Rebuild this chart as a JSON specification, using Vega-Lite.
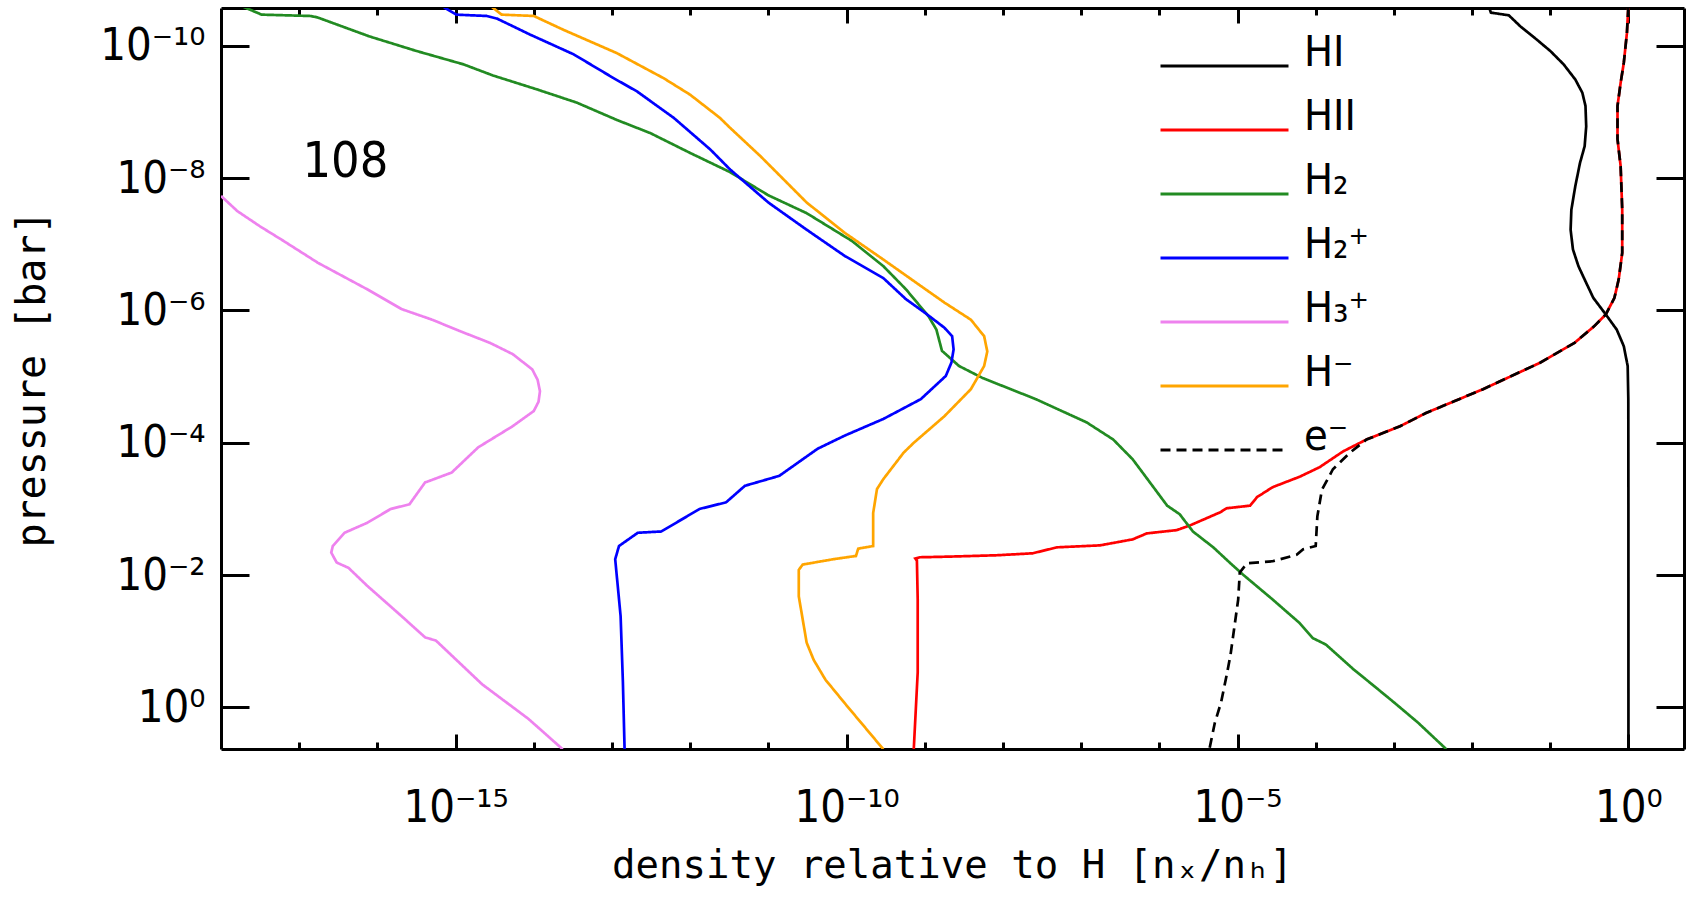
{
  "$schema": "https://vega.github.io/schema/vega-lite/v6.json",
  "width": 1463,
  "height": 741,
  "autosize": {"type": "none"},
  "padding": {"left": 221, "top": 8, "right": 16, "bottom": 151},
  "background": "white",
  "config": {
    "view": {"stroke": null},
    "axis": {
      "grid": false,
      "domainColor": "black",
      "domainWidth": 3,
      "tickColor": "black",
      "tickWidth": 3,
      "labelColor": "black",
      "titleColor": "black",
      "labelFont": "DejaVu Sans Condensed, DejaVu Sans",
      "titleFont": "DejaVu Sans Mono",
      "titleFontWeight": "normal",
      "labelFontSize": 45,
      "titleFontSize": 39,
      "labelOverlap": false,
      "labelFlush": false
    }
  },
  "layer": [
    {
      "data": {
        "values": [
          {"s": "HI", "x": 0.0166, "p": 2.69e-11},
          {"s": "HI", "x": 0.0174, "p": 3.16e-11},
          {"s": "HI", "x": 0.0295, "p": 3.47e-11},
          {"s": "HI", "x": 0.0417, "p": 5.13e-11},
          {"s": "HI", "x": 0.0676, "p": 8.13e-11},
          {"s": "HI", "x": 0.1, "p": 1.2e-10},
          {"s": "HI", "x": 0.148, "p": 1.91e-10},
          {"s": "HI", "x": 0.209, "p": 3.24e-10},
          {"s": "HI", "x": 0.257, "p": 5.13e-10},
          {"s": "HI", "x": 0.282, "p": 8.13e-10},
          {"s": "HI", "x": 0.288, "p": 1.66e-9},
          {"s": "HI", "x": 0.275, "p": 3.31e-9},
          {"s": "HI", "x": 0.24, "p": 5.89e-9},
          {"s": "HI", "x": 0.209, "p": 1.32e-8},
          {"s": "HI", "x": 0.186, "p": 3.02e-8},
          {"s": "HI", "x": 0.182, "p": 6.03e-8},
          {"s": "HI", "x": 0.195, "p": 1.2e-7},
          {"s": "HI", "x": 0.229, "p": 2.14e-7},
          {"s": "HI", "x": 0.282, "p": 3.63e-7},
          {"s": "HI", "x": 0.355, "p": 6.46e-7},
          {"s": "HI", "x": 0.513, "p": 1.15e-6},
          {"s": "HI", "x": 0.708, "p": 1.95e-6},
          {"s": "HI", "x": 0.871, "p": 3.47e-6},
          {"s": "HI", "x": 0.977, "p": 6.92e-6},
          {"s": "HI", "x": 0.995, "p": 2.19e-5},
          {"s": "HI", "x": 0.998, "p": 1e-3},
          {"s": "HI", "x": 0.999, "p": 4.27},

          {"s": "HII", "x": 0.995, "p": 2.6e-11},
          {"s": "HII", "x": 0.955, "p": 6.46e-11},
          {"s": "HII", "x": 0.871, "p": 1.82e-10},
          {"s": "HII", "x": 0.794, "p": 3.63e-10},
          {"s": "HII", "x": 0.724, "p": 8.13e-10},
          {"s": "HII", "x": 0.724, "p": 2.57e-9},
          {"s": "HII", "x": 0.794, "p": 6.61e-9},
          {"s": "HII", "x": 0.832, "p": 3.02e-8},
          {"s": "HII", "x": 0.832, "p": 1.35e-7},
          {"s": "HII", "x": 0.75, "p": 3.39e-7},
          {"s": "HII", "x": 0.661, "p": 6.46e-7},
          {"s": "HII", "x": 0.513, "p": 1.15e-6},
          {"s": "HII", "x": 0.363, "p": 1.74e-6},
          {"s": "HII", "x": 0.204, "p": 3.09e-6},
          {"s": "HII", "x": 0.0741, "p": 6.17e-6},
          {"s": "HII", "x": 0.0138, "p": 1.55e-5},
          {"s": "HII", "x": 2.57e-3, "p": 3.55e-5},
          {"s": "HII", "x": 1.2e-3, "p": 5.62e-5},
          {"s": "HII", "x": 4.47e-4, "p": 8.91e-5},
          {"s": "HII", "x": 2.24e-4, "p": 1.35e-4},
          {"s": "HII", "x": 1.12e-4, "p": 2.34e-4},
          {"s": "HII", "x": 6.31e-5, "p": 3.24e-4},
          {"s": "HII", "x": 2.82e-5, "p": 4.68e-4},
          {"s": "HII", "x": 1.78e-5, "p": 6.61e-4},
          {"s": "HII", "x": 1.45e-5, "p": 8.91e-4},
          {"s": "HII", "x": 7.24e-6, "p": 9.77e-4},
          {"s": "HII", "x": 6.03e-6, "p": 1.12e-3},
          {"s": "HII", "x": 2.45e-6, "p": 1.78e-3},
          {"s": "HII", "x": 1.66e-6, "p": 2.09e-3},
          {"s": "HII", "x": 6.92e-7, "p": 2.34e-3},
          {"s": "HII", "x": 4.57e-7, "p": 2.88e-3},
          {"s": "HII", "x": 1.74e-7, "p": 3.55e-3},
          {"s": "HII", "x": 4.9e-8, "p": 3.8e-3},
          {"s": "HII", "x": 2.4e-8, "p": 4.68e-3},
          {"s": "HII", "x": 8.32e-9, "p": 5.01e-3},
          {"s": "HII", "x": 2.09e-9, "p": 5.25e-3},
          {"s": "HII", "x": 8.71e-10, "p": 5.37e-3},
          {"s": "HII", "x": 7.59e-10, "p": 5.62e-3},
          {"s": "HII", "x": 7.94e-10, "p": 6.03e-3},
          {"s": "HII", "x": 8.13e-10, "p": 2.34e-2},
          {"s": "HII", "x": 8.13e-10, "p": 0.295},
          {"s": "HII", "x": 7.24e-10, "p": 4.27},

          {"s": "H₂", "x": 1.91e-18, "p": 2.57e-11},
          {"s": "H₂", "x": 3.31e-18, "p": 3.39e-11},
          {"s": "H₂", "x": 1.38e-17, "p": 3.55e-11},
          {"s": "H₂", "x": 1.7e-17, "p": 3.72e-11},
          {"s": "H₂", "x": 7.94e-17, "p": 7.24e-11},
          {"s": "H₂", "x": 3.16e-16, "p": 1.2e-10},
          {"s": "H₂", "x": 1.26e-15, "p": 1.91e-10},
          {"s": "H₂", "x": 3.02e-15, "p": 2.82e-10},
          {"s": "H₂", "x": 1.1e-14, "p": 4.57e-10},
          {"s": "H₂", "x": 3.55e-14, "p": 7.24e-10},
          {"s": "H₂", "x": 1.15e-13, "p": 1.32e-9},
          {"s": "H₂", "x": 3.09e-13, "p": 2.09e-9},
          {"s": "H₂", "x": 1e-12, "p": 4.17e-9},
          {"s": "H₂", "x": 3.24e-12, "p": 8.13e-9},
          {"s": "H₂", "x": 1e-11, "p": 1.82e-8},
          {"s": "H₂", "x": 3.09e-11, "p": 3.39e-8},
          {"s": "H₂", "x": 1.17e-10, "p": 8.91e-8},
          {"s": "H₂", "x": 2.95e-10, "p": 2.14e-7},
          {"s": "H₂", "x": 5.75e-10, "p": 4.79e-7},
          {"s": "H₂", "x": 1.12e-9, "p": 1.23e-6},
          {"s": "H₂", "x": 1.41e-9, "p": 1.95e-6},
          {"s": "H₂", "x": 1.66e-9, "p": 4.07e-6},
          {"s": "H₂", "x": 2.75e-9, "p": 6.92e-6},
          {"s": "H₂", "x": 5.5e-9, "p": 1.05e-5},
          {"s": "H₂", "x": 2.63e-8, "p": 2.19e-5},
          {"s": "H₂", "x": 1.17e-7, "p": 4.9e-5},
          {"s": "H₂", "x": 2.57e-7, "p": 8.91e-5},
          {"s": "H₂", "x": 4.57e-7, "p": 1.78e-4},
          {"s": "H₂", "x": 7.59e-7, "p": 3.98e-4},
          {"s": "H₂", "x": 1.26e-6, "p": 8.91e-4},
          {"s": "H₂", "x": 1.82e-6, "p": 1.2e-3},
          {"s": "H₂", "x": 2.69e-6, "p": 2.19e-3},
          {"s": "H₂", "x": 4.9e-6, "p": 3.8e-3},
          {"s": "H₂", "x": 7.94e-6, "p": 6.46e-3},
          {"s": "H₂", "x": 1.17e-5, "p": 9.77e-3},
          {"s": "H₂", "x": 2.82e-5, "p": 2.34e-2},
          {"s": "H₂", "x": 6.17e-5, "p": 5.25e-2},
          {"s": "H₂", "x": 9.12e-5, "p": 8.91e-2},
          {"s": "H₂", "x": 1.35e-4, "p": 0.112},
          {"s": "H₂", "x": 3.02e-4, "p": 0.263},
          {"s": "H₂", "x": 5.25e-4, "p": 0.447},
          {"s": "H₂", "x": 1.02e-3, "p": 0.851},
          {"s": "H₂", "x": 2.04e-3, "p": 1.7},
          {"s": "H₂", "x": 4.68e-3, "p": 4.27},

          {"s": "H₂⁺", "x": 6.92e-16, "p": 2.57e-11},
          {"s": "H₂⁺", "x": 1.02e-15, "p": 3.39e-11},
          {"s": "H₂⁺", "x": 2.51e-15, "p": 3.55e-11},
          {"s": "H₂⁺", "x": 3.39e-15, "p": 3.89e-11},
          {"s": "H₂⁺", "x": 8.91e-15, "p": 6.76e-11},
          {"s": "H₂⁺", "x": 3.24e-14, "p": 1.35e-10},
          {"s": "H₂⁺", "x": 1.05e-13, "p": 3.09e-10},
          {"s": "H₂⁺", "x": 2.09e-13, "p": 4.9e-10},
          {"s": "H₂⁺", "x": 6.17e-13, "p": 1.23e-9},
          {"s": "H₂⁺", "x": 1.82e-12, "p": 3.72e-9},
          {"s": "H₂⁺", "x": 3.24e-12, "p": 7.41e-9},
          {"s": "H₂⁺", "x": 1e-11, "p": 2.34e-8},
          {"s": "H₂⁺", "x": 3.09e-11, "p": 6.03e-8},
          {"s": "H₂⁺", "x": 9.55e-11, "p": 1.51e-7},
          {"s": "H₂⁺", "x": 2.95e-10, "p": 3.24e-7},
          {"s": "H₂⁺", "x": 5.75e-10, "p": 6.76e-7},
          {"s": "H₂⁺", "x": 1.02e-9, "p": 1.1e-6},
          {"s": "H₂⁺", "x": 1.78e-9, "p": 1.82e-6},
          {"s": "H₂⁺", "x": 2.24e-9, "p": 2.45e-6},
          {"s": "H₂⁺", "x": 2.34e-9, "p": 3.89e-6},
          {"s": "H₂⁺", "x": 2.19e-9, "p": 6.17e-6},
          {"s": "H₂⁺", "x": 1.86e-9, "p": 9.77e-6},
          {"s": "H₂⁺", "x": 8.91e-10, "p": 2.19e-5},
          {"s": "H₂⁺", "x": 2.95e-10, "p": 4.37e-5},
          {"s": "H₂⁺", "x": 9.55e-11, "p": 7.76e-5},
          {"s": "H₂⁺", "x": 4.27e-11, "p": 1.23e-4},
          {"s": "H₂⁺", "x": 1.38e-11, "p": 3.16e-4},
          {"s": "H₂⁺", "x": 5.01e-12, "p": 4.47e-4},
          {"s": "H₂⁺", "x": 2.88e-12, "p": 7.94e-4},
          {"s": "H₂⁺", "x": 1.32e-12, "p": 1e-3},
          {"s": "H₂⁺", "x": 4.27e-13, "p": 2.19e-3},
          {"s": "H₂⁺", "x": 2.14e-13, "p": 2.29e-3},
          {"s": "H₂⁺", "x": 1.23e-13, "p": 3.63e-3},
          {"s": "H₂⁺", "x": 1.1e-13, "p": 5.75e-3},
          {"s": "H₂⁺", "x": 1.29e-13, "p": 4.17e-2},
          {"s": "H₂⁺", "x": 1.38e-13, "p": 0.417},
          {"s": "H₂⁺", "x": 1.45e-13, "p": 4.27},

          {"s": "H₃⁺", "x": 1e-18, "p": 1.86e-8},
          {"s": "H₃⁺", "x": 1.62e-18, "p": 3.16e-8},
          {"s": "H₃⁺", "x": 3.16e-18, "p": 5.37e-8},
          {"s": "H₃⁺", "x": 6.31e-18, "p": 8.91e-8},
          {"s": "H₃⁺", "x": 1.74e-17, "p": 1.91e-7},
          {"s": "H₃⁺", "x": 7.41e-17, "p": 4.79e-7},
          {"s": "H₃⁺", "x": 2.04e-16, "p": 9.55e-7},
          {"s": "H₃⁺", "x": 5.01e-16, "p": 1.38e-6},
          {"s": "H₃⁺", "x": 1.12e-15, "p": 2.04e-6},
          {"s": "H₃⁺", "x": 2.75e-15, "p": 3.09e-6},
          {"s": "H₃⁺", "x": 5.37e-15, "p": 4.57e-6},
          {"s": "H₃⁺", "x": 9.55e-15, "p": 7.76e-6},
          {"s": "H₃⁺", "x": 1.12e-14, "p": 1.12e-5},
          {"s": "H₃⁺", "x": 1.2e-14, "p": 1.66e-5},
          {"s": "H₃⁺", "x": 1.15e-14, "p": 2.4e-5},
          {"s": "H₃⁺", "x": 1e-14, "p": 3.31e-5},
          {"s": "H₃⁺", "x": 5.37e-15, "p": 5.62e-5},
          {"s": "H₃⁺", "x": 1.95e-15, "p": 1.17e-4},
          {"s": "H₃⁺", "x": 8.91e-16, "p": 2.82e-4},
          {"s": "H₃⁺", "x": 4.07e-16, "p": 3.98e-4},
          {"s": "H₃⁺", "x": 2.57e-16, "p": 8.51e-4},
          {"s": "H₃⁺", "x": 1.48e-16, "p": 1e-3},
          {"s": "H₃⁺", "x": 7.41e-17, "p": 1.62e-3},
          {"s": "H₃⁺", "x": 3.8e-17, "p": 2.29e-3},
          {"s": "H₃⁺", "x": 2.69e-17, "p": 3.63e-3},
          {"s": "H₃⁺", "x": 2.57e-17, "p": 4.57e-3},
          {"s": "H₃⁺", "x": 3.02e-17, "p": 6.46e-3},
          {"s": "H₃⁺", "x": 4.27e-17, "p": 7.76e-3},
          {"s": "H₃⁺", "x": 7.41e-17, "p": 1.45e-2},
          {"s": "H₃⁺", "x": 2.04e-16, "p": 4.17e-2},
          {"s": "H₃⁺", "x": 4.07e-16, "p": 8.71e-2},
          {"s": "H₃⁺", "x": 5.62e-16, "p": 9.77e-2},
          {"s": "H₃⁺", "x": 1e-15, "p": 0.186},
          {"s": "H₃⁺", "x": 2.19e-15, "p": 0.447},
          {"s": "H₃⁺", "x": 8.51e-15, "p": 1.48},
          {"s": "H₃⁺", "x": 2.34e-14, "p": 4.27},

          {"s": "H⁻", "x": 2.88e-15, "p": 2.57e-11},
          {"s": "H⁻", "x": 3.89e-15, "p": 3.39e-11},
          {"s": "H⁻", "x": 1e-14, "p": 3.55e-11},
          {"s": "H⁻", "x": 2.4e-14, "p": 5.75e-11},
          {"s": "H⁻", "x": 1.15e-13, "p": 1.29e-10},
          {"s": "H⁻", "x": 4.57e-13, "p": 3.09e-10},
          {"s": "H⁻", "x": 1e-12, "p": 5.5e-10},
          {"s": "H⁻", "x": 2.4e-12, "p": 1.23e-9},
          {"s": "H⁻", "x": 3.24e-12, "p": 1.74e-9},
          {"s": "H⁻", "x": 7.94e-12, "p": 4.68e-9},
          {"s": "H⁻", "x": 3.09e-11, "p": 2.34e-8},
          {"s": "H⁻", "x": 9.55e-11, "p": 6.76e-8},
          {"s": "H⁻", "x": 2.95e-10, "p": 1.7e-7},
          {"s": "H⁻", "x": 8.91e-10, "p": 4.27e-7},
          {"s": "H⁻", "x": 1.78e-9, "p": 7.59e-7},
          {"s": "H⁻", "x": 3.89e-9, "p": 1.38e-6},
          {"s": "H⁻", "x": 5.75e-9, "p": 2.45e-6},
          {"s": "H⁻", "x": 6.31e-9, "p": 4.17e-6},
          {"s": "H⁻", "x": 5.75e-9, "p": 6.92e-6},
          {"s": "H⁻", "x": 3.89e-9, "p": 1.55e-5},
          {"s": "H⁻", "x": 1.78e-9, "p": 3.98e-5},
          {"s": "H⁻", "x": 7.24e-10, "p": 1e-4},
          {"s": "H⁻", "x": 5.37e-10, "p": 1.41e-4},
          {"s": "H⁻", "x": 2.95e-10, "p": 3.55e-4},
          {"s": "H⁻", "x": 2.45e-10, "p": 5.01e-4},
          {"s": "H⁻", "x": 2.19e-10, "p": 1.15e-3},
          {"s": "H⁻", "x": 2.19e-10, "p": 3.63e-3},
          {"s": "H⁻", "x": 1.41e-10, "p": 3.98e-3},
          {"s": "H⁻", "x": 1.32e-10, "p": 5.13e-3},
          {"s": "H⁻", "x": 6.76e-11, "p": 5.75e-3},
          {"s": "H⁻", "x": 2.75e-11, "p": 6.92e-3},
          {"s": "H⁻", "x": 2.45e-11, "p": 8.32e-3},
          {"s": "H⁻", "x": 2.45e-11, "p": 2.09e-2},
          {"s": "H⁻", "x": 3.09e-11, "p": 0.105},
          {"s": "H⁻", "x": 3.8e-11, "p": 0.191},
          {"s": "H⁻", "x": 5.37e-11, "p": 0.38},
          {"s": "H⁻", "x": 9.55e-11, "p": 0.871},
          {"s": "H⁻", "x": 2.95e-10, "p": 4.27},

          {"s": "e⁻", "x": 0.995, "p": 2.6e-11},
          {"s": "e⁻", "x": 0.955, "p": 6.46e-11},
          {"s": "e⁻", "x": 0.871, "p": 1.82e-10},
          {"s": "e⁻", "x": 0.794, "p": 3.63e-10},
          {"s": "e⁻", "x": 0.724, "p": 8.13e-10},
          {"s": "e⁻", "x": 0.724, "p": 2.57e-9},
          {"s": "e⁻", "x": 0.794, "p": 6.61e-9},
          {"s": "e⁻", "x": 0.832, "p": 3.02e-8},
          {"s": "e⁻", "x": 0.832, "p": 1.35e-7},
          {"s": "e⁻", "x": 0.75, "p": 3.39e-7},
          {"s": "e⁻", "x": 0.661, "p": 6.46e-7},
          {"s": "e⁻", "x": 0.513, "p": 1.15e-6},
          {"s": "e⁻", "x": 0.363, "p": 1.74e-6},
          {"s": "e⁻", "x": 0.204, "p": 3.09e-6},
          {"s": "e⁻", "x": 0.0741, "p": 6.17e-6},
          {"s": "e⁻", "x": 0.0138, "p": 1.55e-5},
          {"s": "e⁻", "x": 2.57e-3, "p": 3.55e-5},
          {"s": "e⁻", "x": 1.2e-3, "p": 5.62e-5},
          {"s": "e⁻", "x": 4.47e-4, "p": 8.91e-5},
          {"s": "e⁻", "x": 2.75e-4, "p": 1.41e-4},
          {"s": "e⁻", "x": 1.66e-4, "p": 2.51e-4},
          {"s": "e⁻", "x": 1.35e-4, "p": 3.98e-4},
          {"s": "e⁻", "x": 1.2e-4, "p": 5.13e-4},
          {"s": "e⁻", "x": 1.05e-4, "p": 1.29e-3},
          {"s": "e⁻", "x": 1e-4, "p": 3.63e-3},
          {"s": "e⁻", "x": 6.92e-5, "p": 4.07e-3},
          {"s": "e⁻", "x": 5.75e-5, "p": 4.9e-3},
          {"s": "e⁻", "x": 2.82e-5, "p": 6.17e-3},
          {"s": "e⁻", "x": 1.32e-5, "p": 6.61e-3},
          {"s": "e⁻", "x": 1.07e-5, "p": 9.12e-3},
          {"s": "e⁻", "x": 1.02e-5, "p": 2.34e-2},
          {"s": "e⁻", "x": 8.13e-6, "p": 0.162},
          {"s": "e⁻", "x": 7.24e-6, "p": 0.331},
          {"s": "e⁻", "x": 6.17e-6, "p": 0.832},
          {"s": "e⁻", "x": 5.13e-6, "p": 1.7},
          {"s": "e⁻", "x": 4.37e-6, "p": 4.27}
        ]
      },
      "mark": {"type": "line", "strokeWidth": 2.7, "clip": true},
      "encoding": {
        "x": {
          "field": "x",
          "type": "quantitative",
          "scale": {"type": "log", "domain": [1e-18, 5.13], "nice": false},
          "axis": {
            "orient": "bottom",
            "values": [1e-17, 1e-16, 1e-15, 1e-14, 1e-13, 1e-12, 1e-11, 1e-10, 1e-9, 1e-8, 1e-7, 1e-6, 1e-5, 1e-4, 1e-3, 1e-2, 1e-1, 1],
            "labelExpr": "datum.value > 0.5 ? '10⁰' : abs(datum.value / 1e-5 - 1) < 0.01 ? '10⁻⁵' : abs(datum.value / 1e-10 - 1) < 0.01 ? '10⁻¹⁰' : abs(datum.value / 1e-15 - 1) < 0.01 ? '10⁻¹⁵' : ''",
            "tickSize": {"condition": {"test": "round(log(datum.value) / LN10) % 5 == 0", "value": -15}, "value": -7},
            "labelPadding": 87,
            "labelBaseline": "alphabetic",
            "labelAlign": "center",
            "title": "density relative to H [nₓ/nₕ]",
            "titleX": 731,
            "titleY": 128,
            "titleAlign": "center",
            "titleBaseline": "alphabetic"
          }
        },
        "y": {
          "field": "p",
          "type": "quantitative",
          "scale": {"type": "log", "domain": [2.69e-11, 4.24], "reverse": true, "nice": false},
          "axis": {
            "orient": "left",
            "values": [1e-10, 1e-8, 1e-6, 1e-4, 1e-2, 1],
            "labelExpr": "datum.value < 1e-9 ? '10⁻¹⁰' : datum.value < 1e-7 ? '10⁻⁸' : datum.value < 1e-5 ? '10⁻⁶' : datum.value < 1e-3 ? '10⁻⁴' : datum.value < 0.1 ? '10⁻²' : '10⁰'",
            "tickSize": -28,
            "labelPadding": 44,
            "labelAlign": "right",
            "labelBaseline": "middle",
            "title": "pressure [bar]",
            "titleFontSize": 40,
            "titleX": -189,
            "titleY": 370.5,
            "titleAngle": -90,
            "titleAlign": "center",
            "titleBaseline": "middle"
          }
        },
        "order": {"field": "p", "type": "quantitative"},
        "color": {
          "field": "s",
          "type": "nominal",
          "scale": {
            "domain": ["HI", "HII", "H₂", "H₂⁺", "H₃⁺", "H⁻", "e⁻"],
            "range": ["#000000", "#ff0000", "#228b22", "#0000ff", "#ee82ee", "#ffa500", "#000000"]
          },
          "legend": {
            "orient": "none",
            "legendX": 938,
            "legendY": 28,
            "title": null,
            "padding": 0,
            "symbolType": "stroke",
            "symbolSize": 16384,
            "symbolStrokeWidth": 3,
            "clipHeight": 60,
            "rowPadding": 0,
            "labelFont": "DejaVu Sans Condensed, DejaVu Sans",
            "labelFontSize": 43,
            "labelColor": "black",
            "labelBaseline": "alphabetic",
            "labelOffset": 14,
            "labelLimit": 300
          }
        },
        "strokeDash": {
          "field": "s",
          "type": "nominal",
          "scale": {
            "domain": ["HI", "HII", "H₂", "H₂⁺", "H₃⁺", "H⁻", "e⁻"],
            "range": [[1, 0], [1, 0], [1, 0], [1, 0], [1, 0], [1, 0], [10, 6]]
          },
          "legend": {
            "orient": "none",
            "legendX": 938,
            "legendY": 28,
            "title": null,
            "padding": 0,
            "symbolType": "stroke",
            "symbolSize": 16384,
            "symbolStrokeWidth": 3,
            "clipHeight": 60,
            "rowPadding": 0,
            "labelFont": "DejaVu Sans Condensed, DejaVu Sans",
            "labelFontSize": 43,
            "labelColor": "black",
            "labelBaseline": "alphabetic",
            "labelOffset": 14,
            "labelLimit": 300
          }
        }
      }
    },
    {
      "data": {"values": [{"x": 3.89e-17, "p": 5.75e-9, "t": "108"}]},
      "mark": {"type": "text", "font": "DejaVu Sans Condensed, DejaVu Sans", "fontSize": 50, "align": "center", "baseline": "middle", "color": "black"},
      "encoding": {
        "x": {
          "field": "x",
          "type": "quantitative",
          "scale": {"type": "log", "domain": [1e-18, 5.13], "nice": false},
          "axis": {
            "orient": "top",
            "values": [1e-17, 1e-16, 1e-15, 1e-14, 1e-13, 1e-12, 1e-11, 1e-10, 1e-9, 1e-8, 1e-7, 1e-6, 1e-5, 1e-4, 1e-3, 1e-2, 1e-1, 1],
            "labels": false,
            "tickSize": {"condition": {"test": "round(log(datum.value) / LN10) % 5 == 0", "value": -15}, "value": -7},
            "title": null
          }
        },
        "y": {
          "field": "p",
          "type": "quantitative",
          "scale": {"type": "log", "domain": [2.69e-11, 4.24], "reverse": true, "nice": false},
          "axis": {
            "orient": "right",
            "values": [1e-10, 1e-8, 1e-6, 1e-4, 1e-2, 1],
            "labels": false,
            "tickSize": -28,
            "title": null
          }
        },
        "text": {"field": "t", "type": "nominal"}
      }
    }
  ],
  "resolve": {
    "scale": {"x": "shared", "y": "shared"},
    "axis": {"x": "independent", "y": "independent"}
  }
}
